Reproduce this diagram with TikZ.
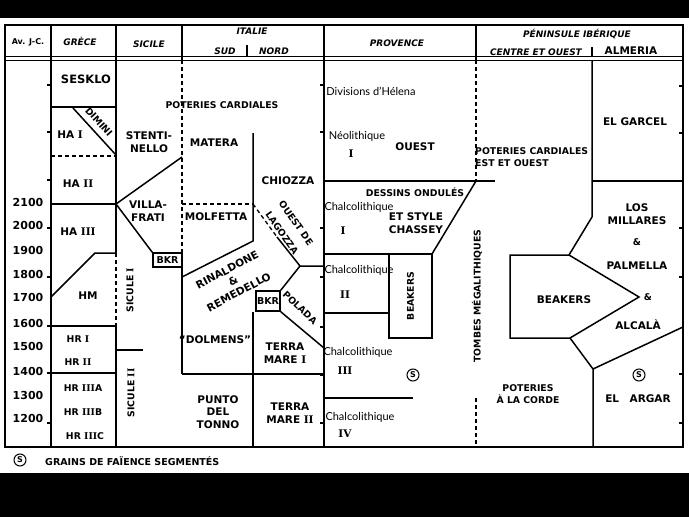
\documentclass[tikz,border=0pt]{standalone}
\usepackage{fontspec}
\setmainfont{DejaVu Sans}
\newfontfamily\handfont{Lato}
\newfontfamily\romfont{DejaVu Serif}
\newcommand\romnum[1]{{\romfont\bfseries #1}}
\usetikzlibrary{positioning}

\begin{document}
\begin{tikzpicture}[
    x=1pt, y=-1pt,
    rule/.style={line width=1.5pt},
    outline/.style={line width=2pt},
    dashrule/.style={line width=1.3pt, dash pattern=on 4pt off 3pt},
    lbl/.style={align=center, inner sep=0pt, font=\bfseries\fontsize{10.5}{12.5}\selectfont},
    lblsm/.style={lbl, font=\bfseries\fontsize{9.3}{12}\selectfont},
    lblbig/.style={lbl, font=\bfseries\fontsize{11.5}{13}\selectfont},
    hdr/.style={inner sep=0pt, font=\bfseries\itshape\fontsize{9}{10}\selectfont},
    datelbl/.style={inner sep=0pt, font=\bfseries\fontsize{11}{12}\selectfont},
    hand/.style={inner sep=0pt, font=\handfont\fontsize{11}{12}\selectfont},
    bkr/.style={draw, rule, inner sep=0pt, font=\bfseries\fontsize{9.5}{10}\selectfont},
    sign/.style={draw, circle, line width=1pt, inner sep=0pt, minimum size=12pt, font=\bfseries\fontsize{8}{8}\selectfont}
]

% Page
\useasboundingbox (0,0) rectangle (689,517);
\fill[white] (0,0) rectangle (689,517);
\fill[black] (0,0) rectangle (689,18);
\fill[black] (0,473) rectangle (689,517);

% Frame and header
\draw[outline] (5,25) rectangle (683,447);
\draw[line width=1pt] (5,56.5) -- (683,56.5);
\draw[line width=1pt] (5,60) -- (683,60);
\draw[rule] (247,45) -- (247,56);
\draw[rule] (592,47) -- (592,56);

\node (avjc) [inner sep=0pt, font=\bfseries\fontsize{8}{9}\selectfont] at (28,42) {Av. J-C.};
\node (grece) [hdr] at (80,41) {GRÈCE};
\node (sicile) [hdr] at (149,44) {SICILE};
\node (italie) [hdr] at (252,31) {ITALIE};
\node (sud) [hdr] at (225,51) {SUD};
\node (nord) [hdr] at (274,51) {NORD};
\node (provence) [hdr] at (397,43) {PROVENCE};
\node (peninsule) [hdr] at (577,34) {PÉNINSULE IBÉRIQUE};
\node (centre) [hdr] at (536,52) {CENTRE ET OUEST};
\node (almeria) [lbl] at (631,51) {ALMERIA};

% Column lines
\draw[rule] (51,25) -- (51,447);
\draw[rule] (116,25) -- (116,253);
\draw[dashrule] (116,253) -- (116,326);
\draw[rule] (116,326) -- (116,447);
\draw[rule] (182,25) -- (182,60);
\draw[dashrule] (182,60) -- (182,253);
\draw[rule] (182,267) -- (182,374);
\draw[rule] (324,25) -- (324,447);
\draw[rule] (476,25) -- (476,60);
\draw[dashrule] (476,60) -- (476,181);
\draw[dashrule] (476,398) -- (476,447);

% Ticks
\foreach \y in {85,132,180,228,277,423}
  \draw[rule] (47,\y) -- (51,\y);
\foreach \y in {85,132,228,277,327,375,423}
  \draw[rule] (320,\y) -- (324,\y);
\foreach \y in {86,133,228,277,374,423}
  \draw[rule] (679,\y) -- (683,\y);

% Dates
\foreach \d/\y in {2100/202,2000/225,1900/250,1800/274,1700/297,1600/323,1500/346,1400/371,1300/395,1200/418}
  \node (d\d) [datelbl] at (28,\y) {\d};

% Grece
\draw[rule] (51,107) -- (116,107);
\draw[rule] (73,108) -- (116,155);
\draw[dashrule] (51,156) -- (116,156);
\draw[rule] (51,204) -- (116,204);
\draw[rule] (51,297) -- (95,253) -- (116,253);
\draw[rule] (47,326) -- (116,326);
\draw[rule] (47,373) -- (116,373);

\node (sesklo) [lblbig] at (86,79) {SESKLO};
\node (dimini) [lblsm, rotate=-48] at (99,122) {DIMINI};
\node (haI) [lbl] at (70,135) {HA \romnum{I}};
\node (haII) [lbl] at (78,184) {HA \romnum{II}};
\node (haIII) [lbl] at (78,232) {HA \romnum{III}};
\node (hm) [lbl] at (88,296) {HM};
\node (hrI) [lblsm] at (78,339) {HR \romnum{I}};
\node (hrII) [lblsm] at (78,362) {HR \romnum{II}};
\node (hrIIIa) [lblsm] at (83,388) {HR \romnum{III}A};
\node (hrIIIb) [lblsm] at (83,412) {HR \romnum{III}B};
\node (hrIIIc) [lblsm] at (85,436) {HR \romnum{III}C};

% Sicile
\node (bkrA) [bkr, minimum width=29pt, minimum height=14pt] at (167.5,260) {BKR};
\draw[rule] (116,204) -- (182,157);
\draw[rule] (116,204) -- (bkrA.north west);
\draw[rule] (116,350) -- (143,350);

\node (stentinello) [lbl] at (149,142) {STENTI-\\NELLO};
\node (villafrati) [lbl] at (148,211) {VILLA-\\FRATI};
\node (siculeI) [lblsm, rotate=90] at (130,290) {SICULE \romnum{I}};
\node (siculeII) [lblsm, rotate=90] at (131,393) {SICULE \romnum{II}};

% Italie
\node (bkrB) [bkr, minimum width=24pt, minimum height=20pt] at (268,301) {BKR};
\draw[rule] (253,133) -- (253,241) -- (182,277);
\draw[dashrule] (182,204) -- (253,204);
\draw[dashrule] (253,204) -- (277,237);
\draw[rule] (277,237) -- (300,266) -- (324,266);
\draw[rule] (300,266) -- (bkrB.north east);
\draw[rule] (bkrB.south east) -- (324,348);
\draw[rule] (253,312) -- (253,447);
\draw[rule] (182,374) -- (324,374);

\node (cardiales) [lblsm] at (222,105) {POTERIES CARDIALES};
\node (matera) [lbl] at (214,143) {MATERA};
\node (molfetta) [lbl] at (216,217) {MOLFETTA};
\node (chiozza) [lbl] at (288,181) {CHIOZZA};
\node (ouestde) [lblsm, rotate=-55] at (296,223) {OUEST DE};
\node (lagozza) [lblsm, rotate=-55] at (282,233) {LAGOZZA};
\node (rinaldone) [lbl, rotate=28] at (233,281) {RINALDONE\\\&\\REMEDELLO};
\node (polada) [lblsm, rotate=-43] at (300,308) {POLADA};
\node (dolmens) [lbl] at (215,340) {``DOLMENS''};
\node (terraI) [lbl] at (285,353) {TERRA\\MARE \romnum{I}};
\node (punto) [lbl] at (218,412) {PUNTO\\DEL\\TONNO};
\node (terraII) [lbl] at (290,413) {TERRA\\MARE \romnum{II}};

% Provence
\node (beakprov) [draw, rule, rotate=90, minimum width=84pt, minimum height=43pt, lblsm] at (410.5,296) {BEAKERS};
\coordinate (beaktop) at (432,254);
\draw[rule] (324,181) -- (495,181);
\draw[rule] (476,181) -- (beaktop);
\draw[rule] (324,254) -- (beaktop);
\draw[rule] (324,313) -- (389,313);
\draw[rule] (325,398) -- (413,398);

\node (helena) [hand] at (371,91) {Divisions d’Hélena};
\node (neo) [hand] at (357,136) {Néolithique};
\node (neoI) [lbl] at (351,154) {\romnum{I}};
\node (ouest) [lbl] at (415,147) {OUEST};
\node (dessins) [lblsm] at (415,192) {DESSINS ONDULÉS};
\node (chalI) [hand] at (359,207) {Chalcolithique};
\node (chalInum) [lbl] at (343,231) {\romnum{I}};
\node (chassey) [lbl] at (416,223) {ET STYLE\\CHASSEY};
\node (chalII) [hand] at (359,270) {Chalcolithique};
\node (chalIInum) [lbl] at (345,295) {\romnum{II}};
\node (chalIII) [hand] at (358,352) {Chalcolithique};
\node (chalIIInum) [lbl] at (345,371) {\romnum{III}};
\node (sprov) [sign] at (413,375) {S};
\node (chalIV) [hand] at (360,417) {Chalcolithique};
\node (chalIVnum) [lbl] at (345,434) {\romnum{IV}};
\node (tombes) [lblsm, rotate=90] at (477,296) {TOMBES MÉGALITHIQUES};

% Peninsule iberique
\draw[rule] (592,60) -- (592,217) -- (569,255);
\draw[rule] (592,181) -- (683,181);
\draw[rule] (510,255) -- (569,255) -- (639,297) -- (570,338) -- (510,338) -- cycle;
\draw[rule] (570,338) -- (593,369) -- (593,447);
\draw[rule] (593,369) -- (683,327);

\node (cardest) [lblsm, anchor=west, align=left] at (475,157.5) {POTERIES CARDIALES\\EST ET OUEST};
\node (garcel) [lbl] at (635,122) {EL GARCEL};
\node (millares) [lbl] at (637,214) {LOS\\MILLARES};
\node (etA) [lblsm] at (637,242) {\&};
\node (palmella) [lbl] at (637,266) {PALMELLA};
\node (etB) [lblsm] at (648,297) {\&};
\node (alcala) [lbl] at (638,325) {ALCALÀ};
\node (beakib) [lbl] at (564,300) {BEAKERS};
\node (corde) [lblsm] at (528,394) {POTERIES\\À LA CORDE};
\node (sib) [sign] at (639,375) {S};
\node (argar) [lbl] at (638,399) {EL\quad ARGAR};

% Legend
\node (slegend) [sign] at (20,460) {S};
\node (legend) [anchor=west, inner sep=0pt, font=\bfseries\fontsize{9.5}{10}\selectfont] at (45,461) {GRAINS DE FAÏENCE SEGMENTÉS};

\end{tikzpicture}
\end{document}
